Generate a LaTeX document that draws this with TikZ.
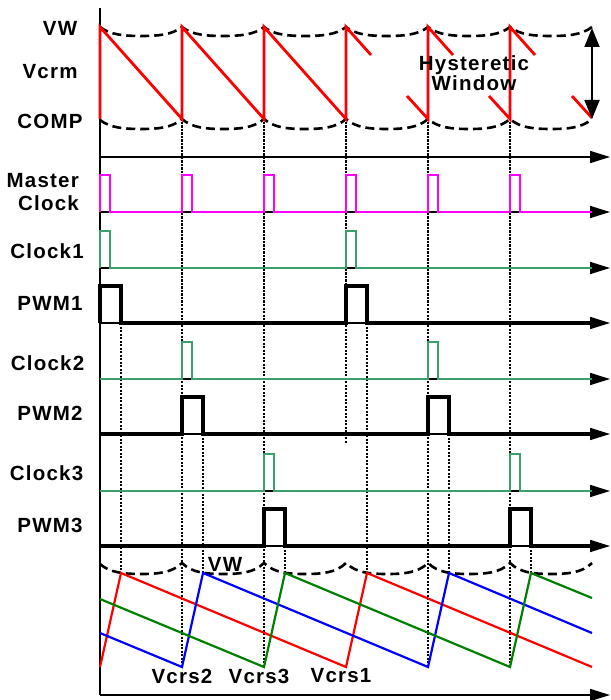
\documentclass[tikz,border=0pt]{standalone}
\usepackage{fontspec}
\setmainfont{Liberation Sans}
\newfontfamily\labfont[LetterSpace=6]{Liberation Sans}
\usetikzlibrary{arrows.meta}
\definecolor{sgreen}{RGB}{60,160,110}
\definecolor{mag}{RGB}{255,0,255}
\definecolor{rgreen}{RGB}{0,128,0}
\begin{document}
\begin{tikzpicture}[x=1pt,y=-1pt,
  lab/.style={font=\labfont\bfseries\fontsize{20.5}{21}\selectfont, inner sep=0pt},
  axis/.style={line width=1.6pt, -{Triangle[length=20pt,width=12pt]}},
  hyst/.style={line width=2.6pt, dash pattern=on 9pt off 5pt},
  guide/.style={line width=2pt, dash pattern=on 2.2pt off 1.3pt},
  saw/.style={red, line width=2.8pt},
  clk/.style={line width=2pt},
  pwm/.style={line width=3.6pt},
  ramp/.style={line width=2.2pt}]
\useasboundingbox (0,0) rectangle (610,700);

% guides
\draw[guide] (182,122) -- (182,667);
\draw[guide] (264,122) -- (264,667);
\draw[guide] (346,122) -- (346,443);
\draw[guide] (428,122) -- (428,667);
\draw[guide] (510,122) -- (510,667);
\draw[guide] (121,323) -- (121,573);
\draw[guide] (367,323) -- (367,573);
\draw[guide] (203,434) -- (203,573);
\draw[guide] (449,434) -- (449,573);
\draw[guide] (285,546) -- (285,573);
\draw[guide] (531,546) -- (531,573);

% axes
\coordinate (vt) at (100,8);
\coordinate (vb) at (100,695);
\coordinate (he) at (610,695);
\draw[line width=1.6pt] (vt) -- (vb);
\draw[axis] (vb) -- (he);
\foreach \y/\n in {157/a0,212/a1,268/a2,323/a3,379/a4,434/a5,491/a6,546/a7}{
  \coordinate (s\n) at (100,\y);
  \coordinate (e\n) at (610,\y);
  \draw[axis] (s\n) -- (e\n);
}

% hysteretic window dashed curves
\draw[hyst] (100,27) \foreach \a in {100,182,264,346,428,510}{
  .. controls ({\a+10},35) and ({\a+25},36) .. ({\a+41},36)
  .. controls ({\a+57},36) and ({\a+72},35) .. ({\a+82},27) };
\draw[hyst] (100,120) \foreach \a in {100,182,264,346,428,510}{
  .. controls ({\a+10},128) and ({\a+25},129) .. ({\a+41},129)
  .. controls ({\a+57},129) and ({\a+72},128) .. ({\a+82},119) };
\draw[hyst] (100,564) \foreach \a in {100,182,264,346,428,510}{
  .. controls ({\a+10},573) and ({\a+25},574) .. ({\a+41},574)
  .. controls ({\a+57},574) and ({\a+72},573) .. ({\a+82},563) };

% Vcrm sawtooth
\draw[saw, line join=miter] (100,119) -- (100,27) -- (182,119) -- (182,27) -- (264,119) -- (264,27) -- (346,119) -- (346,27) -- (371,55);
\draw[saw] (407,96) -- (428,119) -- (428,27) -- (453,55);
\draw[saw] (489,96) -- (510,119) -- (510,27) -- (535,55);
\draw[saw] (572,96) -- (592,118);

% window arrow
\coordinate (wt) at (592,28);
\coordinate (wb) at (592,119);
\draw[line width=1.8pt, {Triangle[length=19pt,width=15pt]}-{Triangle[length=19pt,width=15pt]}] (wt) -- (wb);

% master clock
\draw[mag, clk] (100,212) \foreach \x in {100,182,264,346,428,510}{
  -- (\x,212) -- (\x,175) -- ({\x+10},175) -- ({\x+10},212) } -- (592,212);
% clock1
\draw[sgreen, clk] (100,268) \foreach \x in {100,346}{
  -- (\x,268) -- (\x,231) -- ({\x+10},231) -- ({\x+10},268) } -- (592,268);
% pwm1
\draw[pwm] (100,323) \foreach \x in {100,346}{
  -- (\x,323) -- (\x,286) -- ({\x+21},286) -- ({\x+21},323) } -- (592,323);
% clock2
\draw[sgreen, clk] (100,379) \foreach \x in {182,428}{
  -- (\x,379) -- (\x,342) -- ({\x+10},342) -- ({\x+10},379) } -- (592,379);
% pwm2
\draw[pwm] (100,434) \foreach \x in {182,428}{
  -- (\x,434) -- (\x,397) -- ({\x+21},397) -- ({\x+21},434) } -- (592,434);
% clock3
\draw[sgreen, clk] (100,491) \foreach \x in {264,510}{
  -- (\x,491) -- (\x,454) -- ({\x+10},454) -- ({\x+10},491) } -- (592,491);
% pwm3
\draw[pwm] (100,546) \foreach \x in {264,510}{
  -- (\x,546) -- (\x,509) -- ({\x+21},509) -- ({\x+21},546) } -- (592,546);

% ramps
\draw[ramp, red] (100,667) -- (121,573) -- (346,667) -- (367,573) -- (592,667);
\draw[ramp, blue] (100,633) -- (182,667) -- (203,573) -- (428,667) -- (449,573) -- (592,633);
\draw[ramp, rgreen] (100,599) -- (264,667) -- (285,573) -- (510,667) -- (531,573) -- (592,598);

% labels
\node[lab] (lvw) at (60,28) {VW};
\node[lab] (lvcrm) at (50,72) {Vcrm};
\node[lab] (lcomp) at (50,121) {COMP};
\node[lab, anchor=east, align=right] (lmc) at (79,192.5) {Master\\[2pt]Clock};
\node[lab] (lc1) at (47,251) {Clock1};
\node[lab] (lp1) at (50,303) {PWM1};
\node[lab] (lc2) at (47.5,363) {Clock2};
\node[lab] (lp2) at (50,413) {PWM2};
\node[lab] (lc3) at (46.5,473) {Clock3};
\node[lab] (lp3) at (50,525) {PWM3};
\node[lab, align=center, font=\labfont\bfseries\fontsize{20.5}{19}\selectfont] (lhw) at (474,73) {Hysteretic\\Window};
\node[lab] (lvw2) at (225,564) {VW};
\node[lab] (lv2) at (182,676) {Vcrs2};
\node[lab] (lv3) at (259,676) {Vcrs3};
\node[lab] (lv1) at (341,676) {Vcrs1};
\end{tikzpicture}
\end{document}
